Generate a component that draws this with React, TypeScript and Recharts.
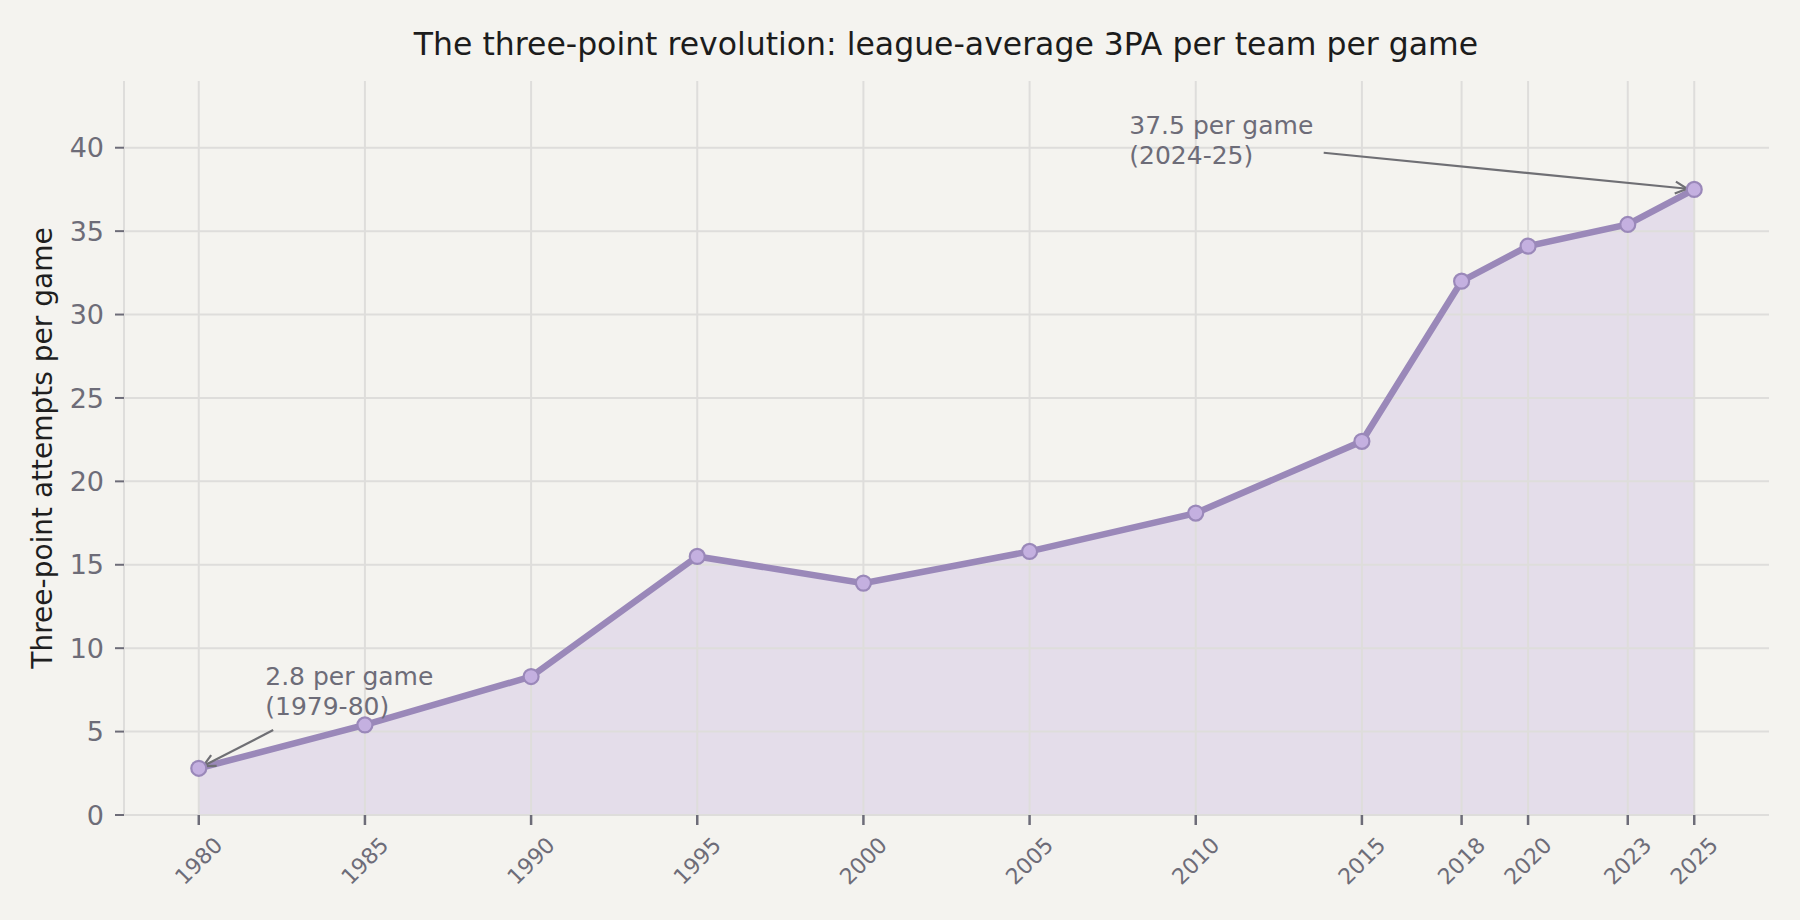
import {
  ComposedChart,
  Area,
  Line,
  XAxis,
  YAxis,
  ReferenceLine,
  ReferenceDot,
} from "recharts";

// season end year and league-average 3PA per team per game
const years = [1980, 1985, 1990, 1995, 2000, 2005, 2010, 2015, 2018, 2020, 2023, 2025];
const attempts = [2.8, 5.4, 8.3, 15.5, 13.9, 15.8, 18.1, 22.4, 32.0, 34.1, 35.4, 37.5];
const yTicks = [0, 5, 10, 15, 20, 25, 30, 35, 40];

const firstNote = ["2.8 per game", "(1979-80)"];
const lastNote = ["37.5 per game", "(2024-25)"];

const data = years.map((year, i) => ({ year, value: attempts[i] }));

const BG = "#f4f3ef";
const GRID = "#dedddb";
const TICK = "#6d6c78";
const LINE = "#9a88b9";
const FONT = "'DejaVu Sans', sans-serif";

function XTick(props: any) {
  const { x, y, payload } = props;
  const cy = y + 34;
  return (
    <text
      x={x}
      y={cy}
      textAnchor="middle"
      dominantBaseline="central"
      transform={`rotate(-45, ${x}, ${cy})`}
      fill={TICK}
      fontSize={22}
      fontFamily={FONT}
    >
      {payload.value}
    </text>
  );
}

function makeArrow(shrink: number) {
  return (p: any) => {
    const { x1, y1, x2, y2 } = p;
    const dx = x2 - x1;
    const dy = y2 - y1;
    const len = Math.hypot(dx, dy);
    const ux = dx / len;
    const uy = dy / len;
    const ex = x2 - ux * shrink;
    const ey = y2 - uy * shrink;
    const hl = 12;
    const hw = 6;
    const bx = ex - ux * hl;
    const by = ey - uy * hl;
    return (
      <g stroke="#6f6f74" strokeWidth={2.2} fill="none">
        <line x1={x1} y1={y1} x2={ex} y2={ey} />
        <polyline
          points={`${bx - uy * hw},${by + ux * hw} ${ex},${ey} ${bx + uy * hw},${by - ux * hw}`}
        />
      </g>
    );
  };
}

function makeNote(lines: string[]) {
  return (p: any) => (
    <text x={p.cx} y={p.cy} fill={TICK} fontSize={25} fontFamily={FONT}>
      <tspan x={p.cx} dy={-30}>
        {lines[0]}
      </tspan>
      <tspan x={p.cx} dy={30}>
        {lines[1]}
      </tspan>
    </text>
  );
}

export default function App() {
  return (
    <div
      style={{
        position: "relative",
        width: 1800,
        height: 920,
        background: BG,
        fontFamily: FONT,
        overflow: "hidden",
      }}
    >
      <style>{`html,body{margin:0;padding:0;background:${BG};}`}</style>
      <div
        style={{
          position: "absolute",
          top: 24,
          left: 0,
          width: 1892,
          textAlign: "center",
          fontSize: 31.5,
          color: "#1c1c1c",
          lineHeight: "40px",
        }}
      >
        The three-point revolution: league-average 3PA per team per game
      </div>

      <ComposedChart
        width={1800}
        height={920}
        data={data}
        margin={{ top: 81, right: 31, bottom: 0, left: 0 }}
      >
        {yTicks.map((t) => (
          <ReferenceLine key={`h${t}`} y={t} stroke={GRID} strokeWidth={2} />
        ))}
        {years.map((t) => (
          <ReferenceLine key={`v${t}`} x={t} stroke={GRID} strokeWidth={2} />
        ))}

        <XAxis
          dataKey="year"
          type="number"
          domain={[1977.75, 2027.25]}
          ticks={years}
          interval={0}
          height={105}
          allowDataOverflow
          axisLine={{ stroke: GRID, strokeWidth: 2 }}
          tickLine={{ stroke: TICK, strokeWidth: 2.5 }}
          tickSize={10}
          tick={<XTick />}
        />

        <YAxis
          type="number"
          domain={[0, 44]}
          ticks={yTicks}
          width={124}
          allowDataOverflow
          axisLine={{ stroke: GRID, strokeWidth: 2 }}
          tickLine={{ stroke: TICK, strokeWidth: 2 }}
          tickSize={9}
          tickMargin={11}
          tick={{ fill: TICK, fontSize: 27, fontFamily: FONT }}
          label={{
            content: (p: any) => {
              const vb = p.viewBox;
              const cy = vb.y + vb.height / 2;
              return (
                <text
                  x={42}
                  y={cy}
                  textAnchor="middle"
                  dominantBaseline="central"
                  transform={`rotate(-90, 42, ${cy})`}
                  fill="#1f1f1f"
                  fontSize={28}
                  fontFamily={FONT}
                >
                  Three-point attempts per game
                </text>
              );
            },
          }}
        />

        <Area
          dataKey="value"
          type="linear"
          stroke="none"
          fill="#b39ddb"
          fillOpacity={0.25}
          isAnimationActive={false}
        />

        <Line
          dataKey="value"
          type="linear"
          stroke={LINE}
          strokeWidth={6.5}
          dot={{ r: 7.5, fill: "#c4b0e0", stroke: LINE, strokeWidth: 2.2 }}
          activeDot={false}
          isAnimationActive={false}
        />

        <ReferenceLine
          segment={[
            { x: 1982.24, y: 5.09 },
            { x: years[0], y: attempts[0] },
          ]}
          shape={makeArrow(5)}
        />
        <ReferenceLine
          segment={[
            { x: 2013.85, y: 39.7 },
            { x: years[years.length - 1], y: attempts[attempts.length - 1] },
          ]}
          shape={makeArrow(7)}
        />

        <ReferenceDot x={1982} y={6} r={0} shape={makeNote(firstNote)} />
        <ReferenceDot x={2008} y={39} r={0} shape={makeNote(lastNote)} />
      </ComposedChart>
    </div>
  );
}
